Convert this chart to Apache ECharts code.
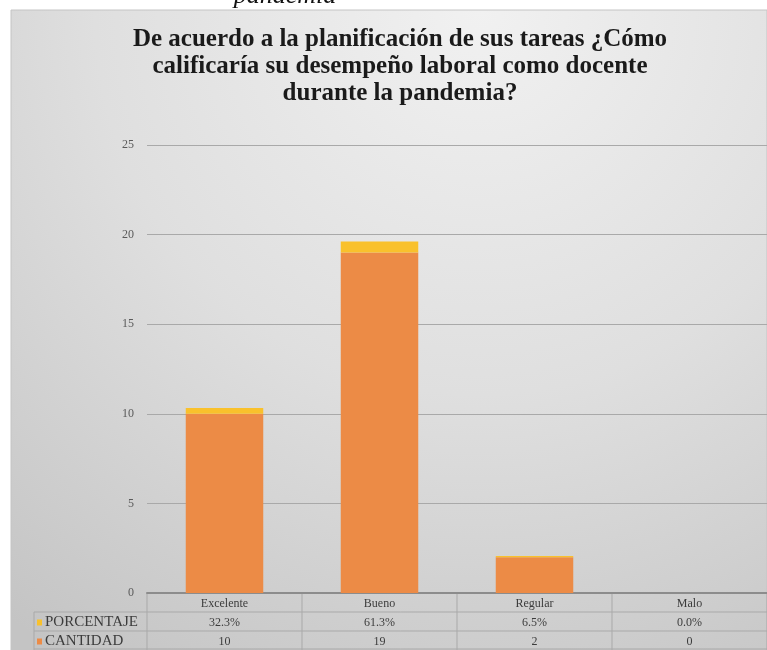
<!DOCTYPE html>
<html>
<head>
<meta charset="utf-8">
<script src="https://cdn.jsdelivr.net/npm/echarts@6/dist/echarts.min.js"></script>
<style>
  html, body { margin: 0; padding: 0; background: #ffffff; }
  #chart { width: 767px; height: 650px; }
</style>
</head>
<body>
<div id="chart"></div>
<script>
// Survey results: self-rated teaching performance during the pandemic
const categories = ['Excelente', 'Bueno', 'Regular', 'Malo'];
const cantidad = [10, 19, 2, 0];
const porcentaje = [0.323, 0.613, 0.065, 0.0];
const seriesNames = ['PORCENTAJE', 'CANTIDAD'];
const yTicks = { min: 0, max: 25, interval: 5 };

const SERIF = '"Liberation Serif", "DejaVu Serif", serif';
const ORANGE = '#EC8B46';
const YELLOW = '#F9C12C';
const LINE = '#a9a9a9';
const TEXT = '#3c3c3c';

const chart = echarts.init(document.getElementById('chart'), null, { renderer: 'canvas' });

const option = {
  backgroundColor: '#ffffff',
  animation: false,
  title: {
    text: 'De acuerdo a la planificación de sus tareas ¿Cómo\ncalificaría su desempeño laboral como docente\ndurante la pandemia?',
    left: 395,
    top: 21,
    textAlign: 'center',
    textStyle: {
      fontFamily: SERIF,
      fontWeight: 'bold',
      fontSize: 25,
      lineHeight: 27,
      color: '#1a1a1a'
    }
  },
  grid: { left: 147, right: 0, top: 145, bottom: 57, containLabel: false },
  xAxis: {
    type: 'category',
    data: categories,
    axisLine: { show: true, lineStyle: { color: '#8c8c8c', width: 2 } },
    axisTick: { show: false },
    axisLabel: { show: false },
    splitLine: { show: false }
  },
  yAxis: {
    type: 'value',
    min: yTicks.min,
    max: yTicks.max,
    interval: yTicks.interval,
    axisLine: { show: false },
    axisTick: { show: false },
    axisLabel: { fontFamily: SERIF, fontSize: 12, color: '#5a5a5a', margin: 13 },
    splitLine: { lineStyle: { color: LINE, width: 1 } }
  },
  series: [
    {
      name: seriesNames[1],
      type: 'bar',
      stack: 'total',
      barWidth: '50%',
      data: cantidad,
      itemStyle: { color: ORANGE }
    },
    {
      name: seriesNames[0],
      type: 'bar',
      stack: 'total',
      barWidth: '50%',
      data: porcentaje,
      itemStyle: { color: YELLOW }
    }
  ]
};

chart.setOption(option);

// Data table under the plot, laid out from the category axis
function buildTable() {
  const x0 = chart.convertToPixel({ xAxisIndex: 0 }, categories[0]);
  const x1 = chart.convertToPixel({ xAxisIndex: 0 }, categories[1]);
  const band = x1 - x0;
  const baseY = chart.convertToPixel({ yAxisIndex: 0 }, 0);
  const rowH = 19;
  const legendLeft = 34;
  const tableLeft = x0 - band / 2;
  const tableRight = tableLeft + band * categories.length;
  const els = [];

  // panel background
  els.push({
    type: 'rect', z: -10, silent: true,
    shape: { x: 11, y: 10, width: 756, height: 640 },
    style: {
      fill: new echarts.graphic.RadialGradient(0.62, 0.0, 1.2, [
        { offset: 0, color: '#f1f1f1' },
        { offset: 0.5, color: '#dfdfdf' },
        { offset: 1, color: '#c4c4c4' }
      ]),
      stroke: '#c4c4c4', lineWidth: 1
    }
  });

  // fragment of the preceding caption, clipped by the page top
  els.push({
    type: 'text', z: -5, silent: true,
    style: {
      text: 'pandemia', x: 285, y: 9,
      align: 'center', verticalAlign: 'bottom',
      font: 'italic 26px ' + SERIF, fill: '#111111'
    }
  });

  const line = (xa, ya, xb, yb) => els.push({
    type: 'line', silent: true,
    shape: { x1: xa, y1: ya, x2: xb, y2: yb },
    style: { stroke: LINE, lineWidth: 1 }
  });

  // horizontal rules
  line(legendLeft, baseY + rowH, tableRight, baseY + rowH);
  line(legendLeft, baseY + rowH * 2, tableRight, baseY + rowH * 2);
  line(legendLeft, baseY + rowH * 3 - 1, tableRight, baseY + rowH * 3 - 1);
  // vertical rules
  line(legendLeft, baseY + rowH, legendLeft, 650);
  for (let i = 0; i <= categories.length; i++) {
    const xx = tableLeft + band * i;
    line(xx, baseY, xx, 650);
  }

  const cell = (txt, cx, cy) => els.push({
    type: 'text', silent: true,
    style: {
      text: txt, x: cx, y: cy, align: 'center', verticalAlign: 'middle',
      font: '12px ' + SERIF, fill: TEXT
    }
  });

  categories.forEach((c, i) => {
    const cx = chart.convertToPixel({ xAxisIndex: 0 }, c);
    cell(c, cx, baseY + rowH * 0.5 + 1);
    cell((porcentaje[i] * 100).toFixed(1) + '%', cx, baseY + rowH * 1.5 + 1);
    cell(String(cantidad[i]), cx, baseY + rowH * 2.5 + 1);
  });

  // legend keys
  const keyColors = [YELLOW, ORANGE];
  seriesNames.forEach((n, r) => {
    const cy = baseY + rowH * (1.5 + r) + 1;
    els.push({
      type: 'rect', silent: true,
      shape: { x: legendLeft + 3, y: cy - 3, width: 5, height: 6 },
      style: { fill: keyColors[r] }
    });
    els.push({
      type: 'text', silent: true,
      style: {
        text: n, x: legendLeft + 11, y: cy, align: 'left', verticalAlign: 'middle',
        font: '15px ' + SERIF, fill: TEXT
      }
    });
  });

  chart.setOption({ graphic: { elements: els } });
}

buildTable();
</script>
</body>
</html>
